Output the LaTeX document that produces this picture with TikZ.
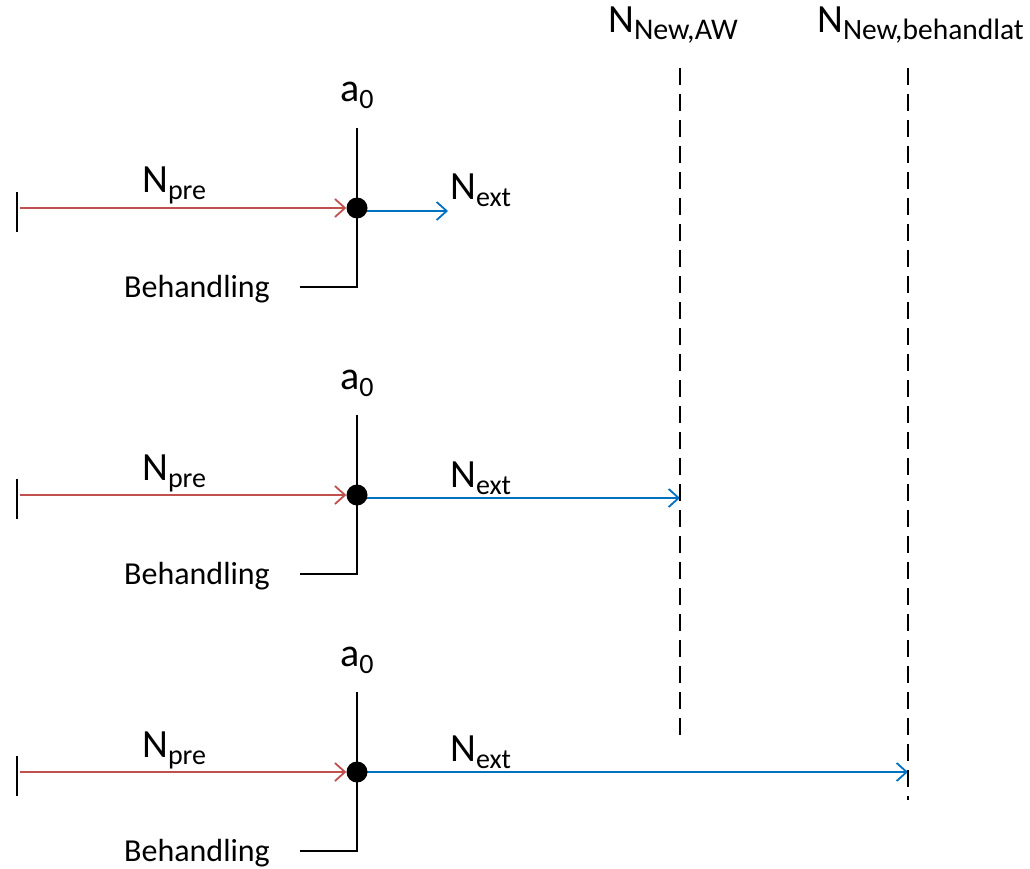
\documentclass[tikz,border=0pt]{standalone}
\usepackage{fontspec}
\setmainfont{Carlito}
\usetikzlibrary{arrows.meta}
\pgfdeclarelayer{bg}
\pgfsetlayers{bg,main}
\definecolor{offred}{HTML}{C0504D}
\definecolor{offblue}{HTML}{0070C0}
\newcommand{\Nsub}[3][28]{{\fontsize{40}{48}\selectfont #2}\raisebox{-7pt}{\fontsize{#1}{31}\selectfont #3}}
\begin{document}
\begin{tikzpicture}[x=1pt,y=-1pt,
  lbl/.style={inner sep=0pt,anchor=base west},
  dotnode/.style={circle,fill=black,inner sep=0pt,minimum size=21pt},
  redline/.style={draw=offred,line width=1.8pt,-{Straight Barb[length=10pt,width=18pt,line width=1.8pt]}},
  blueline/.style={draw=offblue,line width=1.8pt,-{Straight Barb[length=10pt,width=18pt,line width=1.8pt]}},
  blackline/.style={draw=black,line width=1.8pt},
  tickline/.style={draw=black,line width=2.4pt},
  dashline/.style={draw=black,line width=1.6pt,dash pattern=on 17pt off 9pt}]
\useasboundingbox (0,0) rectangle (1030,869);

% top labels and dashed lines
\node[lbl] (lAW) at (608,33) {\Nsub[30]{N}{New,AW}};
\node[lbl] (lBH) at (817,33) {\Nsub[29.5]{N}{New,behandlat}};
\coordinate (aw1) at (680,68);
\coordinate (aw2) at (680,735);
\coordinate (bh1) at (908,68);
\coordinate (bh2) at (908,800);
\draw[dashline] (aw1) -- (aw2);
\draw[dashline] (bh1) -- (bh2);

\foreach \r/\y/\ex/\ey in {1/208/448/211, 2/495/680/498, 3/772/908/772}{
  \node[dotnode] (d\r) at (357,\y) {};
  \coordinate (tk\r a) at (17,\y-16);
  \coordinate (tk\r b) at (17,\y+24);
  \coordinate (s\r) at (20,\y);
  \coordinate (e\r) at (\ex,\ey);
  \coordinate (vt\r) at (357,\y-80);
  \coordinate (vb\r) at (357,\y+79);
  \coordinate (vl\r) at (300,\y+79);
  \node[lbl] (a\r) at (340,\y-106) {\Nsub{a}{0}};
  \node[lbl] (np\r) at (142,\y-15) {\Nsub{N}{pre}};
  \node[lbl] (ne\r) at (450,\ey-11) {\Nsub{N}{ext}};
  \node[lbl] (b\r) at (124,\y+89) {\fontsize{32}{38}\selectfont Behandling};
  \begin{pgfonlayer}{bg}
    \draw[tickline] (tk\r a) -- (tk\r b);
    \draw[blackline] (vt\r) -- (vb\r) -- (vl\r);
    \draw[redline] (s\r) -- (d\r.west);
    \draw[blueline] (d\r.center |- e\r) -- (e\r);
  \end{pgfonlayer}
}
\end{tikzpicture}
\end{document}
